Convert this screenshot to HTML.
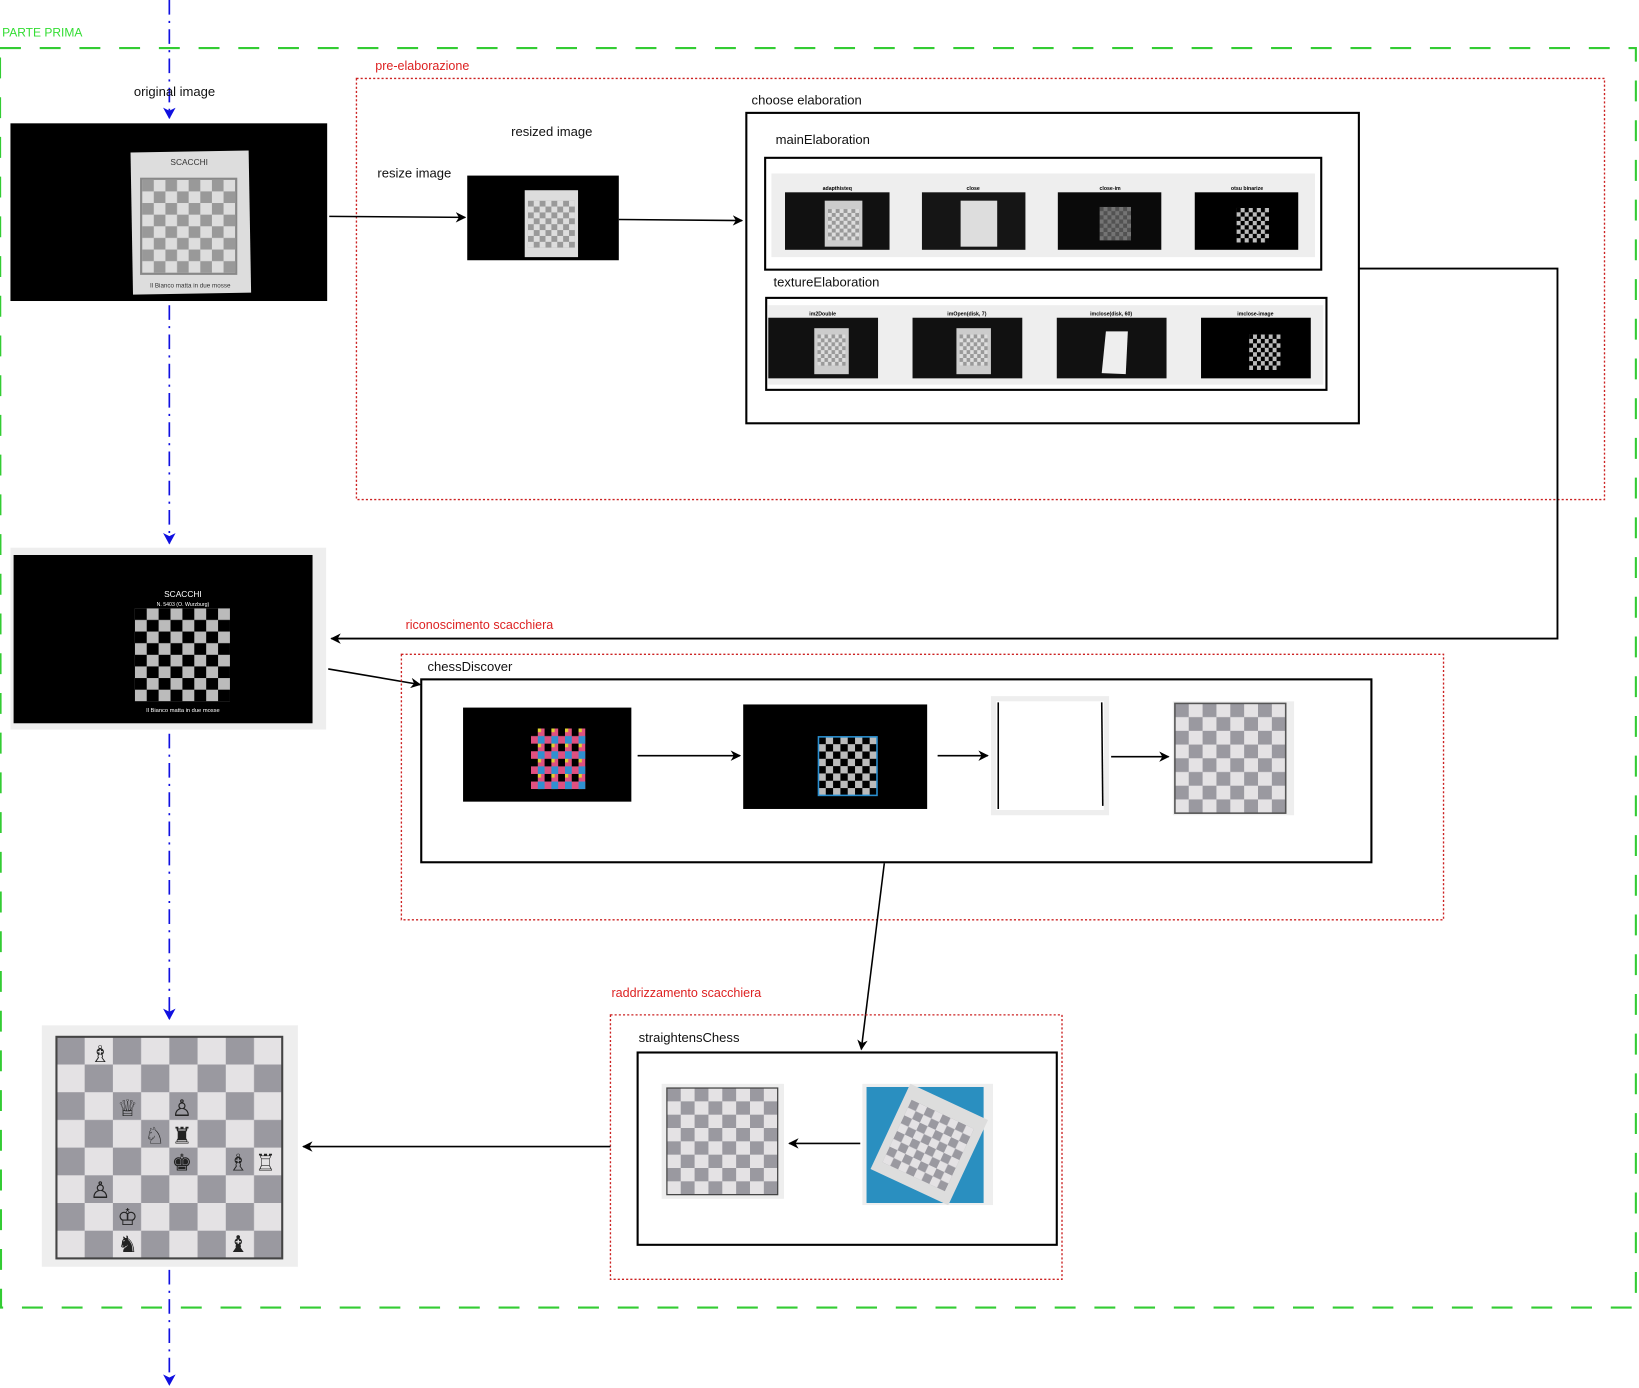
<!DOCTYPE html>
<html><head><meta charset="utf-8"><style>
html,body{margin:0;padding:0;background:#fff;}
svg{display:block;font-family:"Liberation Sans","DejaVu Sans",sans-serif;}
</style></head><body>
<svg width="1639" height="1388" viewBox="0 0 1568 1328" preserveAspectRatio="none">
<defs>
  <pattern id="cb" width="2" height="2" patternUnits="objectBoundingBox" patternContentUnits="objectBoundingBox"></pattern>
  <marker id="ab" markerWidth="10" markerHeight="10" refX="9" refY="5" orient="auto" markerUnits="userSpaceOnUse"><path d="M0,0 L10,5 L0,10 L3,5 z" fill="#000"/></marker>
  <marker id="ablue" markerWidth="12" markerHeight="12" refX="10" refY="6" orient="auto" markerUnits="userSpaceOnUse"><path d="M0,0 L11,6 L0,12 L3,6 z" fill="#1010e0"/></marker>
  <pattern id="chk" width="2" height="2" patternUnits="userSpaceOnUse"></pattern>
</defs>

<!-- blue flow line -->
<g stroke="#1010e0" stroke-width="1.6" stroke-dasharray="14,6,2,6" fill="none">
  <line x1="162" y1="0" x2="162" y2="113" marker-end="url(#ablue)"/>
  <line x1="162" y1="292" x2="162" y2="520" marker-end="url(#ablue)"/>
  <line x1="162" y1="702" x2="162" y2="975" marker-end="url(#ablue)"/>
  <line x1="162" y1="1215" x2="162" y2="1325" marker-end="url(#ablue)"/>
</g>

<!-- green outer -->
<text x="2" y="35" font-size="11.5" fill="#33dd33">PARTE PRIMA</text>
<path d="M0,46 H1565 V1251 H1 Z" fill="none" stroke="#33cc33" stroke-width="2" stroke-dasharray="20,18"/>

<!-- pre-elaborazione -->
<text x="359" y="67" font-size="12" fill="#dd2222">pre-elaborazione</text>
<rect x="341" y="75" width="1194" height="403" fill="none" stroke="#cc2222" stroke-width="1.3" stroke-dasharray="2,2"/>

<!-- original image -->
<text x="167" y="92" font-size="12.5" text-anchor="middle" fill="#111">original image</text>
<g>
  <rect x="10" y="118" width="303" height="170" fill="#000"/>
  <rect x="126" y="145" width="113" height="136" fill="#ddd" transform="rotate(-1 180 210)"/>
  <text x="181" y="158" font-size="8" text-anchor="middle" fill="#333">SCACCHI</text>
  <rect x="134" y="170" width="93" height="93" fill="#888"/>
  <rect x="136" y="172" width="89" height="89" fill="url(#chess8)"/>
  <text x="182" y="275" font-size="6" text-anchor="middle" fill="#333">Il Bianco matta in due mosse</text>
</g>

<text x="361" y="170" font-size="12.5" fill="#111">resize image</text>
<text x="489" y="130" font-size="12.5" fill="#111">resized image</text>
<g>
  <rect x="447" y="168" width="145" height="81" fill="#000"/>
  <rect x="502" y="182" width="51" height="64" fill="#ddd"/>
  <rect x="505" y="192" width="45" height="45" fill="url(#chess8)"/>
</g>
<line x1="315" y1="207" x2="445" y2="208" stroke="#000" stroke-width="1.5" marker-end="url(#ab)"/>
<line x1="592" y1="210" x2="710" y2="211" stroke="#000" stroke-width="1.5" marker-end="url(#ab)"/>

<!-- choose elaboration -->
<text x="719" y="100" font-size="12.5" fill="#111">choose elaboration</text>
<rect x="714" y="108" width="586" height="297" fill="none" stroke="#000" stroke-width="2"/>
<text x="742" y="138" font-size="12.5" fill="#111">mainElaboration</text>
<rect x="732" y="151" width="532" height="107" fill="none" stroke="#000" stroke-width="2"/>
<rect x="738" y="166" width="520" height="80" fill="#eee"/>
<g font-size="5" font-weight="bold" text-anchor="middle" fill="#000">
  <g><text x="801" y="182">adapthisteq</text><rect x="751" y="184" width="100" height="55" fill="#111"/><rect x="789" y="192" width="36" height="44" fill="#ccc"/><rect x="792" y="200" width="30" height="30" fill="url(#chess8)"/></g>
  <g><text x="931" y="182">close</text><rect x="882" y="184" width="99" height="55" fill="#151515"/><rect x="919" y="192" width="35" height="44" fill="#ddd"/></g>
  <g><text x="1062" y="182">close-im</text><rect x="1012" y="184" width="99" height="55" fill="#0a0a0a"/><rect x="1052" y="198" width="30" height="32" fill="url(#chess8)" opacity="0.5"/></g>
  <g><text x="1193" y="182">otsu binarize</text><rect x="1143" y="184" width="99" height="55" fill="#000"/><rect x="1183" y="199" width="31" height="33" fill="url(#chessbw)"/></g>
</g>
<text x="740" y="274" font-size="12.5" fill="#111">textureElaboration</text>
<rect x="733" y="285" width="536" height="88" fill="none" stroke="#000" stroke-width="2"/>
<rect x="735" y="292" width="531" height="76" fill="#eee"/>
<g font-size="5" font-weight="bold" text-anchor="middle" fill="#000">
  <g><text x="787" y="302">im2Double</text><rect x="735" y="304" width="105" height="58" fill="#111"/><rect x="779" y="314" width="33" height="44" fill="#ccc"/><rect x="782" y="320" width="27" height="30" fill="url(#chess8)"/></g>
  <g><text x="925" y="302">imOpen(disk, 7)</text><rect x="873" y="304" width="105" height="58" fill="#111"/><rect x="915" y="314" width="33" height="44" fill="#ccc"/><rect x="918" y="320" width="27" height="30" fill="url(#chess8)"/></g>
  <g><text x="1063" y="302">imclose(disk, 60)</text><rect x="1011" y="304" width="105" height="58" fill="#111"/><polygon points="1058,317 1079,317 1077,358 1054,357" fill="#eee"/></g>
  <g><text x="1201" y="302">imclose-image</text><rect x="1149" y="304" width="105" height="58" fill="#000"/><rect x="1195" y="320" width="30" height="34" fill="url(#chessbw)"/></g>
</g>

<!-- return line to riconoscimento -->
<path d="M1300,257 H1490 V611 H317" fill="none" stroke="#000" stroke-width="1.8" marker-end="url(#ab)"/>
<text x="388" y="602" font-size="12" fill="#dd2222">riconoscimento scacchiera</text>

<g>
  <rect x="10" y="524" width="302" height="174" fill="#eee"/>
  <rect x="13" y="531" width="286" height="161" fill="#000"/>
  <text x="175" y="571" font-size="8" text-anchor="middle" fill="#fff">SCACCHI</text>
  <text x="175" y="580" font-size="5" text-anchor="middle" fill="#fff">N. 5403 (O. Wurzburg)</text>
  <rect x="129" y="582" width="91" height="89" fill="url(#chessbw)"/>
  <text x="175" y="681" font-size="5.5" text-anchor="middle" fill="#fff">Il Bianco matta in due mosse</text>
</g>
<line x1="314" y1="640" x2="402" y2="655" stroke="#000" stroke-width="1.5" marker-end="url(#ab)"/>

<rect x="384" y="626" width="997" height="254" fill="none" stroke="#cc2222" stroke-width="1.3" stroke-dasharray="2,2"/>
<text x="409" y="642" font-size="12.5" fill="#111">chessDiscover</text>
<rect x="403" y="650" width="909" height="175" fill="none" stroke="#000" stroke-width="2"/>
<g>
  <rect x="443" y="677" width="161" height="90" fill="#000"/>
  <rect x="508" y="697" width="52" height="58" fill="url(#chesscol)"/>
</g>
<g>
  <rect x="711" y="674" width="176" height="100" fill="#000"/>
  <rect x="783" y="705" width="56" height="56" fill="url(#chessbw)" stroke="#2a8fd0" stroke-width="1.5"/>
</g>
<g>
  <rect x="948" y="666" width="113" height="114" fill="#eee"/>
  <rect x="953" y="671" width="103" height="104" fill="#fff"/>
  <line x1="955" y1="672" x2="955" y2="774" stroke="#000" stroke-width="1.5"/>
  <line x1="1054" y1="672" x2="1055" y2="771" stroke="#000" stroke-width="1.5"/>
</g>
<g>
  <rect x="1122" y="671" width="116" height="109" fill="#eee"/>
  <rect x="1124" y="673" width="106" height="105" fill="url(#chessg)" stroke="#555" stroke-width="1.5"/>
</g>
<line x1="610" y1="723" x2="708" y2="723" stroke="#000" stroke-width="1.5" marker-end="url(#ab)"/>
<line x1="897" y1="723" x2="945" y2="723" stroke="#000" stroke-width="1.5" marker-end="url(#ab)"/>
<line x1="1063" y1="724" x2="1118" y2="724" stroke="#000" stroke-width="1.5" marker-end="url(#ab)"/>
<line x1="846" y1="826" x2="824" y2="1004" stroke="#000" stroke-width="1.5" marker-end="url(#ab)"/>

<!-- raddrizzamento -->
<text x="585" y="954" font-size="12" fill="#dd2222">raddrizzamento scacchiera</text>
<rect x="584" y="971" width="432" height="253" fill="none" stroke="#cc2222" stroke-width="1.3" stroke-dasharray="2,2"/>
<text x="611" y="997" font-size="12.5" fill="#111">straightensChess</text>
<rect x="610" y="1007" width="401" height="184" fill="none" stroke="#000" stroke-width="2"/>
<g>
  <rect x="633" y="1037" width="117" height="110" fill="#eee"/>
  <rect x="638" y="1041" width="106" height="102" fill="url(#chessg)" stroke="#444" stroke-width="1.2"/>
</g>
<g>
  <rect x="825" y="1037" width="125" height="116" fill="#eee"/>
  <rect x="829" y="1040" width="112" height="111" fill="#2a8fc0"/>
  <rect x="848" y="1050" width="82" height="90" fill="#ddd" transform="rotate(25 889 1095)"/>
  <rect x="855" y="1063" width="66" height="66" fill="url(#chessg)" transform="rotate(25 888 1096)"/>
</g>
<line x1="823" y1="1094" x2="755" y2="1094" stroke="#000" stroke-width="1.5" marker-end="url(#ab)"/>

<g>
  <rect x="40" y="981" width="245" height="231" fill="#eee"/>
  <rect x="54" y="992" width="216" height="212" fill="url(#chessg)" stroke="#444" stroke-width="2"/>
  <g font-size="22" text-anchor="middle" fill="#222" font-family="DejaVu Sans, sans-serif">
    <text x="122" y="1068">♕</text><text x="174" y="1068">♙</text>
    <text x="148" y="1094">♘</text><text x="174" y="1094">♜</text>
    <text x="174" y="1120">♚</text><text x="228" y="1120">♗</text><text x="254" y="1120">♖</text>
    <text x="96" y="1146">♙</text><text x="122" y="1172">♔</text>
    <text x="122" y="1198">♞</text><text x="228" y="1198">♝</text><text x="96" y="1016">♗</text>
  </g>
</g>
<line x1="584" y1="1097" x2="290" y2="1097" stroke="#000" stroke-width="1.5" marker-end="url(#ab)"/>

<defs>
  <pattern id="chess8" width="0.25" height="0.25" patternUnits="objectBoundingBox" patternContentUnits="objectBoundingBox">
    <rect width="0.25" height="0.25" fill="#ddd"/><rect width="0.125" height="0.125" fill="#999"/><rect x="0.125" y="0.125" width="0.125" height="0.125" fill="#999"/>
  </pattern>
  <pattern id="chessbw" width="0.25" height="0.25" patternUnits="objectBoundingBox" patternContentUnits="objectBoundingBox">
    <rect width="0.25" height="0.25" fill="#bbb"/><rect width="0.125" height="0.125" fill="#000"/><rect x="0.125" y="0.125" width="0.125" height="0.125" fill="#000"/>
  </pattern>
  <pattern id="chesscol" width="0.25" height="0.25" patternUnits="objectBoundingBox" patternContentUnits="objectBoundingBox">
    <rect width="0.25" height="0.25" fill="#e05080"/><rect width="0.125" height="0.125" fill="#000"/><rect x="0.125" y="0.125" width="0.125" height="0.125" fill="#3090d0"/><rect x="0.125" width="0.06" height="0.06" fill="#e0d030"/>
  </pattern>
  <pattern id="chessg" width="0.25" height="0.25" patternUnits="objectBoundingBox" patternContentUnits="objectBoundingBox">
    <rect width="0.25" height="0.25" fill="#e4e2e4"/><rect width="0.125" height="0.125" fill="#9a99a0"/><rect x="0.125" y="0.125" width="0.125" height="0.125" fill="#9a99a0"/>
  </pattern>
</defs>
</svg>
</body></html>
